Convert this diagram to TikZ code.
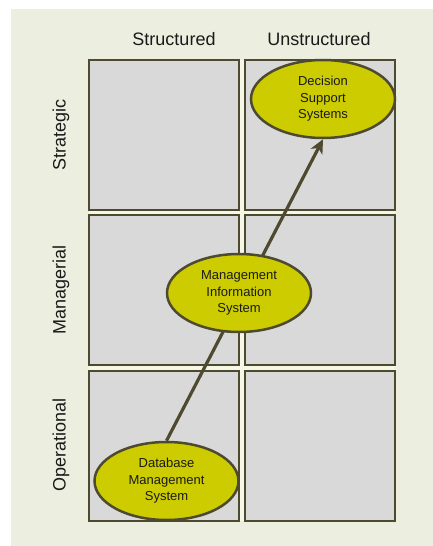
\documentclass[tikz,border=0pt]{standalone}
\usepackage{fontspec}
\setmainfont{Liberation Sans}
\usetikzlibrary{arrows.meta,shapes.geometric}
\definecolor{pagebg}{HTML}{ECEFE0}
\definecolor{gapbg}{HTML}{F5F7E7}
\definecolor{cellfill}{HTML}{D9D9D9}
\definecolor{edge}{HTML}{4E4A30}
\definecolor{bubble}{HTML}{CCCC00}
\definecolor{ink}{HTML}{1A1A1A}
\tikzset{
  cell/.style={draw=edge, fill=cellfill, line width=2.5pt},
  bubblenode/.style={ellipse, draw=edge, fill=bubble, line width=2.5pt,
    minimum width=144pt, minimum height=78pt, inner sep=0pt,
    align=center, text=ink, font=\fontsize{13}{16.5}\selectfont},
  header/.style={anchor=base, text=ink, font=\fontsize{18}{20}\selectfont},
  rowlabel/.style={rotate=90, text=ink, font=\fontsize{18}{20}\selectfont},
  flow/.style={draw=edge, line width=3.2pt, -{Stealth[length=14pt,width=13pt,inset=4pt]}}
}
\begin{document}
\begin{tikzpicture}[x=1pt, y=-1pt]
  \useasboundingbox (0,0) rectangle (433,546);
  % backdrop
  \fill[pagebg] (11,9) rectangle (433,546);
  \fill[gapbg] (89,60) rectangle (395,521);
  % grid cells
  \draw[cell] (89,60) rectangle (239,210);
  \draw[cell] (245,60) rectangle (395,210);
  \draw[cell] (89,215) rectangle (239,365);
  \draw[cell] (245,215) rectangle (395,365);
  \draw[cell] (89,371) rectangle (239,521);
  \draw[cell] (245,371) rectangle (395,521);
  % column headings
  \node[header] (hs) at (174,45) {Structured};
  \node[header] (hu) at (319,45) {Unstructured};
  % row headings
  \node[rowlabel] (rs) at (61,135) {Strategic};
  \node[rowlabel] (rm) at (61,290) {Managerial};
  \node[rowlabel] (ro) at (61,445) {Operational};
  % systems
  \node[bubblenode] (dss) at (323,99) {Decision\\Support\\Systems};
  \node[bubblenode] (dbms) at (166.5,481) {Database\\Management\\System};
  \draw[flow] (dbms.north) -- (dss.south);
  \node[bubblenode] (mis) at (239,293) {Management\\Information\\System};
\end{tikzpicture}
\end{document}
